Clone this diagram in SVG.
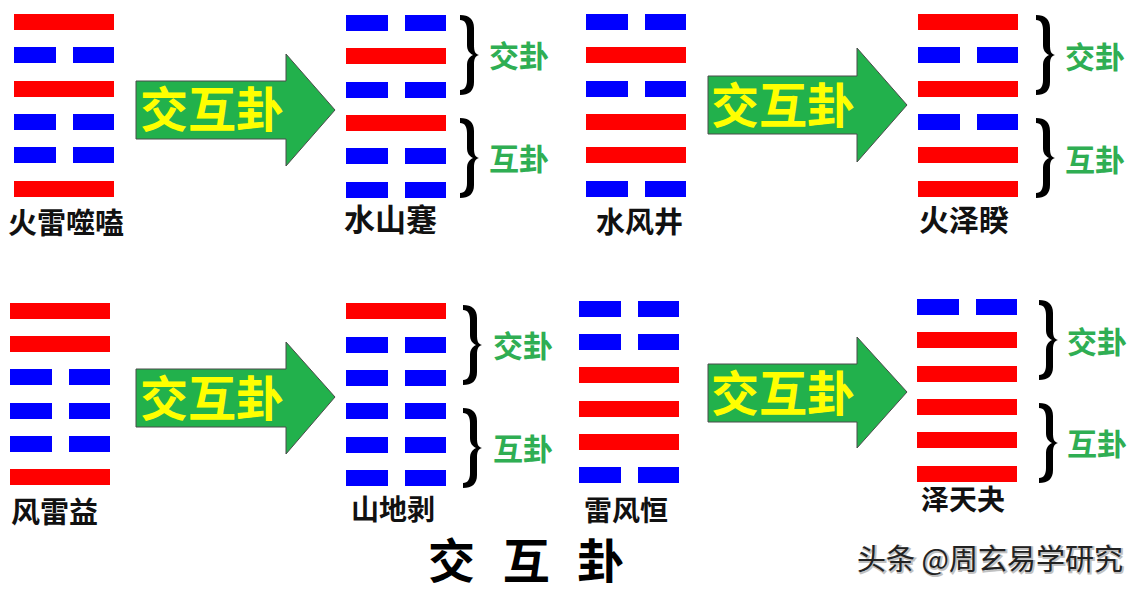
<svg xmlns="http://www.w3.org/2000/svg" xmlns:xlink="http://www.w3.org/1999/xlink" width="1141" height="592" viewBox="0 0 1141 592">
<style>
.cjk{font-family:"Noto Sans CJK SC","Noto Sans",sans-serif;font-weight:700}
.lbl{fill:#111}
.arrtxt{fill:#FFFF00;font-size:48px}
.sub{fill:#2FAE53;font-size:30px}
.arrow{fill:#22B14C;stroke:#4a4a4a;stroke-width:1}
.brace{fill:#000}
.yang{fill:#FF0000}
.yin{fill:#0000FF}
.wm{font-family:"Noto Sans CJK SC","Noto Sans",sans-serif;font-size:29px}
</style>
<defs>
<g id="yang"><rect class="yang" x="0" y="0" width="100" height="16"/></g>
<g id="yin"><rect class="yin" x="0" y="0" width="42" height="16"/><rect class="yin" x="59" y="0" width="41" height="16"/></g>
<path id="brace" class="brace" d="M0,0 C9,0 14,4 14,13 L14,30 C14,36 15,39 19,40 C15,41 14,44 14,50 L14,67 C14,76 9,80 0,80 L0,75 C5,75 7,71 7,65 L7,50 C7,45 9,42 13,40 C9,38 7,35 7,30 L7,15 C7,9 5,5 0,5 Z"/>
</defs>
<rect width="1141" height="592" fill="#fff"/>

<g id="connectors">
<g id="arrow1"><polygon class="arrow" points="136,81 286,81 286,54 335,110 286,166 286,139 136,139"/><text class="cjk arrtxt" x="140" y="127">交互卦</text></g>
<g id="arrow2"><polygon class="arrow" points="708,76 857,76 857,48 907,105 857,162 857,134 708,134"/><text class="cjk arrtxt" x="711" y="123">交互卦</text></g>
<g id="arrow3"><polygon class="arrow" points="136,369 286,369 286,342 335,397 286,454 286,427 136,427"/><text class="cjk arrtxt" x="140" y="416">交互卦</text></g>
<g id="arrow4"><polygon class="arrow" points="708,364 857,364 857,337 907,392 857,448 857,422 708,422"/><text class="cjk arrtxt" x="711" y="411">交互卦</text></g>
</g>

<g id="hex-huoleishihe">
<use href="#yang" x="14" y="14"/><use href="#yin" x="14" y="47"/><use href="#yang" x="14" y="81"/>
<use href="#yin" x="14" y="114"/><use href="#yin" x="14" y="147"/><use href="#yang" x="14" y="181"/>
<text class="cjk lbl" x="8" y="234" font-size="29">火雷噬嗑</text>
</g>

<g id="hex-shuishanjian">
<use href="#yin" x="346" y="15"/><use href="#yang" x="346" y="48"/><use href="#yin" x="346" y="82"/>
<use href="#yang" x="346" y="115"/><use href="#yin" x="346" y="148"/><use href="#yin" x="346" y="182"/>
<use href="#brace" x="460" y="15"/><use href="#brace" x="460" y="118"/>
<text class="cjk sub" x="489" y="67">交卦</text>
<text class="cjk sub" x="489" y="170">互卦</text>
<text class="cjk lbl" x="344" y="231" font-size="31">水山蹇</text>
</g>

<g id="hex-shuifengjing">
<use href="#yin" x="586" y="14"/><use href="#yang" x="586" y="47"/><use href="#yin" x="586" y="81"/>
<use href="#yang" x="586" y="114"/><use href="#yang" x="586" y="147"/><use href="#yin" x="586" y="181"/>
<text class="cjk lbl" x="596" y="233" font-size="29">水风井</text>
</g>

<g id="hex-huozekui">
<use href="#yang" x="918" y="14"/><use href="#yin" x="918" y="47"/><use href="#yang" x="918" y="81"/>
<use href="#yin" x="918" y="114"/><use href="#yang" x="918" y="147"/><use href="#yang" x="918" y="181"/>
<use href="#brace" x="1036" y="15"/><use href="#brace" x="1036" y="118"/>
<text class="cjk sub" x="1065" y="68">交卦</text>
<text class="cjk sub" x="1065" y="171">互卦</text>
<text class="cjk lbl" x="919" y="231" font-size="30">火泽睽</text>
</g>

<g id="hex-fengleiyi">
<use href="#yang" x="10" y="303"/><use href="#yang" x="10" y="336"/><use href="#yin" x="10" y="369"/>
<use href="#yin" x="10" y="403"/><use href="#yin" x="10" y="436"/><use href="#yang" x="10" y="469"/>
<text class="cjk lbl" x="11" y="523" font-size="29">风雷益</text>
</g>

<g id="hex-shandibo">
<use href="#yang" x="346" y="303"/><use href="#yin" x="346" y="337"/><use href="#yin" x="346" y="370"/>
<use href="#yin" x="346" y="403"/><use href="#yin" x="346" y="437"/><use href="#yin" x="346" y="470"/>
<use href="#brace" x="463" y="305"/><use href="#brace" x="463" y="408"/>
<text class="cjk sub" x="493" y="357">交卦</text>
<text class="cjk sub" x="493" y="460">互卦</text>
<text class="cjk lbl" x="351" y="520" font-size="28">山地剥</text>
</g>

<g id="hex-leifengheng">
<use href="#yin" x="579" y="301"/><use href="#yin" x="579" y="334"/><use href="#yang" x="579" y="367"/>
<use href="#yang" x="579" y="401"/><use href="#yang" x="579" y="434"/><use href="#yin" x="579" y="467"/>
<text class="cjk lbl" x="584" y="521" font-size="28">雷风恒</text>
</g>

<g id="hex-zetianguai">
<use href="#yin" x="917" y="299"/><use href="#yang" x="917" y="332"/><use href="#yang" x="917" y="366"/>
<use href="#yang" x="917" y="399"/><use href="#yang" x="917" y="432"/><use href="#yang" x="917" y="466"/>
<use href="#brace" x="1039" y="300"/><use href="#brace" x="1039" y="403"/>
<text class="cjk sub" x="1067" y="353">交卦</text>
<text class="cjk sub" x="1067" y="455">互卦</text>
<text class="cjk lbl" x="921" y="510" font-size="28">泽天夬</text>
</g>

<g id="title">
<text class="cjk" fill="#000" font-size="47" x="428" y="578" word-spacing="17">交 互 卦</text>
</g>

<g id="watermark">
<text class="wm" x="858" y="571" fill="#fff" stroke="#bbb" stroke-width="2" opacity="0.9">头条 @周玄易学研究</text>
<text class="wm" x="857" y="570" fill="#222">头条 @周玄易学研究</text>
</g>
</svg>
